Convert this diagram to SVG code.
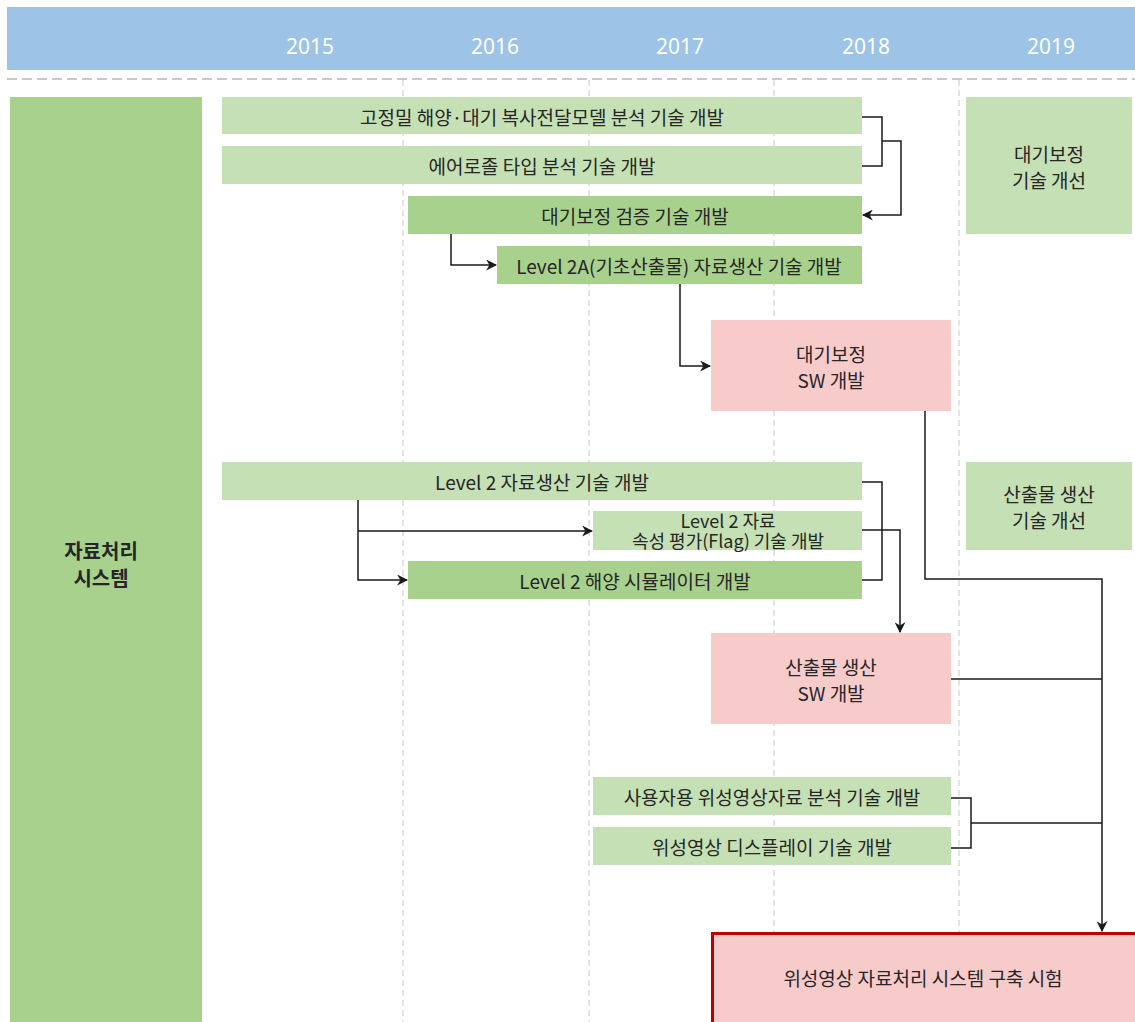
<svg xmlns="http://www.w3.org/2000/svg" width="1135" height="1022" viewBox="0 0 1135 1022">
<defs>
<style>
.t{font-family:"Noto Sans CJK KR","Noto Sans",sans-serif;font-size:19px;fill:#262626;text-anchor:middle;dominant-baseline:central}
.s{font-size:18px}
.yr{font-family:"Noto Sans","Open Sans",sans-serif;font-size:21px;fill:#ffffff;text-anchor:middle;dominant-baseline:central}
.lg{fill:#c5e0b4}
.dg{fill:#a9d18e}
.pk{fill:#f8cbcb}
.grid{stroke:#c8c8c8;stroke-width:1;stroke-dasharray:6 4;fill:none}
.c{stroke:#1a1a1a;stroke-width:1.5;fill:none}
</style>
<marker id="ar" viewBox="0 0 10 10" refX="9" refY="5" markerWidth="11" markerHeight="11" markerUnits="userSpaceOnUse" orient="auto">
<path d="M0,0 L10,5 L0,10 L3,5 Z" fill="#1a1a1a"/>
</marker>
</defs>
<rect width="1135" height="1022" fill="#ffffff"/>
<g id="header">
<rect x="7" y="7" width="1128" height="63" fill="#9dc3e6"/>
<text class="yr" x="310" y="46">2015</text>
<text class="yr" x="495" y="46">2016</text>
<text class="yr" x="680" y="46">2017</text>
<text class="yr" x="866" y="46">2018</text>
<text class="yr" x="1051" y="46">2019</text>
<line x1="7" y1="79" x2="1135" y2="79" stroke="#c8c8c8" stroke-width="2" stroke-dasharray="10 5"/>
</g>
<g id="grid">
<line class="grid" x1="403" y1="80" x2="403" y2="1022"/>
<line class="grid" x1="589" y1="80" x2="589" y2="1022"/>
<line class="grid" x1="774" y1="80" x2="774" y2="1022"/>
<line class="grid" x1="959" y1="80" x2="959" y2="1022"/>
</g>
<g id="n-system">
<rect class="dg" x="10" y="97" width="192" height="925"/>
<text class="t" x="101" y="550" style="font-weight:bold;font-size:20px">자료처리</text>
<text class="t" x="101" y="577" style="font-weight:bold;font-size:20px">시스템</text>
</g>
<g id="n1"><rect class="lg" x="222" y="97" width="640" height="37"/><text class="t" x="542" y="116">고정밀 해양·대기 복사전달모델 분석 기술 개발</text></g>
<g id="n2"><rect class="lg" x="222" y="146" width="640" height="38"/><text class="t" x="542" y="165">에어로졸 타입 분석 기술 개발</text></g>
<g id="n3"><rect class="dg" x="408" y="196" width="454" height="38"/><text class="t" x="635" y="215">대기보정 검증 기술 개발</text></g>
<g id="n4"><rect class="dg" x="497" y="246" width="365" height="38"/><text class="t" x="679" y="265">Level 2A(기초산출물) 자료생산 기술 개발</text></g>
<g id="n5"><rect class="pk" x="711" y="320" width="240" height="91"/><text class="t" x="831" y="353">대기보정</text><text class="t" x="831" y="379">SW 개발</text></g>
<g id="n6"><rect class="lg" x="966" y="97" width="166" height="137"/><text class="t" x="1049" y="153">대기보정</text><text class="t" x="1049" y="179">기술 개선</text></g>
<g id="n7"><rect class="lg" x="222" y="462" width="640" height="38"/><text class="t" x="542" y="481">Level 2 자료생산 기술 개발</text></g>
<g id="n8"><rect class="lg" x="593" y="511" width="269" height="39"/><text class="t s" x="728" y="520">Level 2 자료</text><text class="t s" x="728" y="540">속성 평가(Flag) 기술 개발</text></g>
<g id="n9"><rect class="dg" x="408" y="561" width="454" height="38"/><text class="t" x="635" y="580">Level 2 해양 시뮬레이터 개발</text></g>
<g id="n10"><rect class="lg" x="966" y="462" width="166" height="88"/><text class="t" x="1049" y="493">산출물 생산</text><text class="t" x="1049" y="519">기술 개선</text></g>
<g id="n11"><rect class="pk" x="711" y="633" width="240" height="91"/><text class="t" x="831" y="666">산출물 생산</text><text class="t" x="831" y="692">SW 개발</text></g>
<g id="n12"><rect class="lg" x="593" y="777" width="358" height="38"/><text class="t" x="772" y="796">사용자용 위성영상자료 분석 기술 개발</text></g>
<g id="n13"><rect class="lg" x="593" y="827" width="358" height="38"/><text class="t" x="772" y="846">위성영상 디스플레이 기술 개발</text></g>
<g id="n14"><rect x="712.5" y="933.5" width="430" height="100" fill="#f8cbcb" stroke="#c00000" stroke-width="3"/><text class="t" x="923" y="977">위성영상 자료처리 시스템 구축 시험</text></g>
<g id="connectors">
<polyline class="c" points="862,117 882,117 882,166 862,166"/>
<polyline class="c" points="882,141 901,141 901,215 863,215" marker-end="url(#ar)"/>
<polyline class="c" points="451,234 451,265 496,265" marker-end="url(#ar)"/>
<polyline class="c" points="680,284 680,366 710,366" marker-end="url(#ar)"/>
<polyline class="c" points="925,411 925,579 1102,579 1102,931" marker-end="url(#ar)"/>
<polyline class="c" points="862,482 882,482 882,580 862,580"/>
<polyline class="c" points="862,530 900,530 900,632" marker-end="url(#ar)"/>
<polyline class="c" points="358,500 358,580 407,580" marker-end="url(#ar)"/>
<polyline class="c" points="358,531 592,531" marker-end="url(#ar)"/>
<line class="c" x1="951" y1="679" x2="1102" y2="679"/>
<polyline class="c" points="951,798 971,798 971,848 951,848"/>
<line class="c" x1="971" y1="823" x2="1102" y2="823"/>
</g>
</svg>
